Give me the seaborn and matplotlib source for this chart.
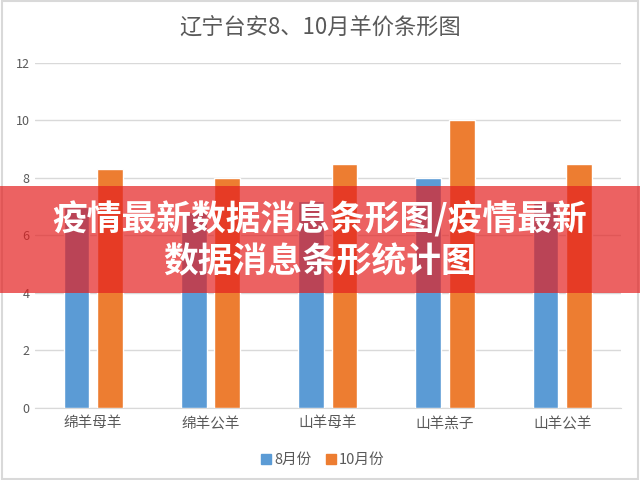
import matplotlib.pyplot as plt
import matplotlib.patches as patches
from matplotlib.lines import Line2D
import pandas as pd
import seaborn as sns

# 数据
categories = ['绵羊母羊', '绵羊公羊', '山羊母羊', '山羊羔子', '山羊公羊']
aug = [7.0, 6.8, 7.2, 8.0, 7.2]
octo = [8.3, 8.0, 8.5, 10.0, 8.5]
series = ['8月份', '10月份']
colors = ['#5B9BD5', '#ED7D31']

df = pd.DataFrame({
    'cat': categories * 2,
    'price': aug + octo,
    'month': [series[0]] * len(categories) + [series[1]] * len(categories),
})

sns.set_style('white')
plt.rcParams['font.family'] = ['Noto Sans CJK SC', 'DejaVu Sans']

fig = plt.figure(figsize=(6.4, 4.8), dpi=100)
ax = fig.add_axes([0.054, 0.15, 0.916, 0.719])

sns.barplot(data=df, x='cat', y='price', hue='month', palette=colors, saturation=1,
            width=0.57, gap=0.23, legend=False, ax=ax, zorder=3)

ax.set_ylim(0, 12)
ax.set_yticks(range(0, 13, 2))
ax.set_xlim(-0.5, 4.5)
ax.grid(axis='y', color='#D9D9D9', lw=1, zorder=0)
for s in ['top', 'right', 'left']:
    ax.spines[s].set_visible(False)
ax.spines['bottom'].set_color('#D9D9D9')
ax.tick_params(axis='both', length=0, colors='#595959', labelsize=9)
ax.tick_params(axis='x', labelsize=10.5, pad=6)
ax.set_xlabel('')
ax.set_ylabel('')

fig.text(0.5, 0.942, '辽宁台安8、10月羊价条形图', ha='center', va='center',
         fontsize=16, color='#595959')

handles = [Line2D([], [], marker='s', ls='', color=c, markersize=7) for c in colors]
fig.legend(handles, series, loc='center', bbox_to_anchor=(0.5, 0.042), ncol=2,
           frameon=False, fontsize=10.5, labelcolor='#595959', handletextpad=-0.2,
           columnspacing=0.6, handlelength=1.5)

# 外框
fig.patches.append(patches.Rectangle((0.003, 0.003), 0.994, 0.994, transform=fig.transFigure,
                                     fill=False, edgecolor='#D9D9D9', lw=1.5))

# 红色横幅
fig.patches.append(patches.Rectangle((0, 1 - 293 / 480), 1, 107 / 480, transform=fig.transFigure,
                                     facecolor='#E42020', alpha=0.7, edgecolor='none', zorder=10))
fig.text(0.5, 1 - 219 / 480, '疫情最新数据消息条形图/疫情最新', ha='center', va='center',
         fontsize=25, fontweight='bold', color='white', zorder=11)
fig.text(0.5, 1 - 262 / 480, '数据消息条形统计图', ha='center', va='center',
         fontsize=25, fontweight='bold', color='white', zorder=11)

fig.savefig('out.png', dpi=100)
